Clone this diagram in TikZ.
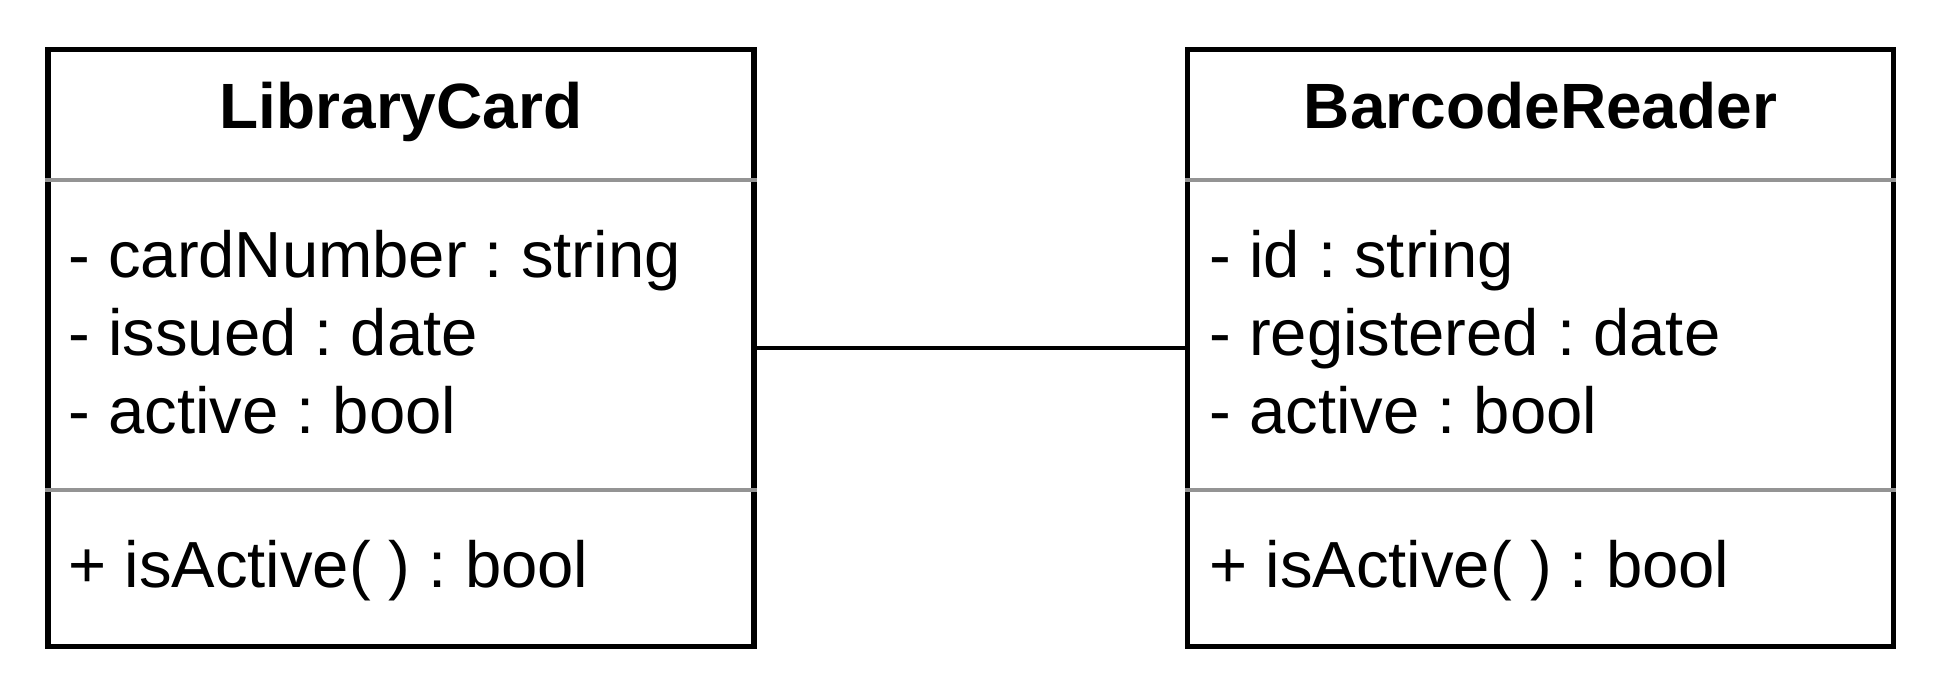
\documentclass[tikz,border=0pt]{standalone}
\usepackage{fontspec}
\setmainfont{Liberation Sans}
\frenchspacing
\begin{document}
\begin{tikzpicture}[x=0.5pt,y=-0.5pt,
  classbox/.style={draw=black,line width=2.6pt,minimum width=353pt,minimum height=298.5pt,inner sep=0pt},
  divider/.style={draw=black!42,line width=2.4pt},
  conn/.style={draw=black,line width=2pt},
  title/.style={font=\fontsize{32}{38}\selectfont\bfseries,anchor=base,inner sep=0pt},
  member/.style={font=\fontsize{32.6}{38}\selectfont,anchor=base west,inner sep=0pt}]
\useasboundingbox (0,0) rectangle (1934,686);
\node[classbox] (lc) at (401,347.8) {};
\node[classbox] (br) at (1540.5,347.8) {};
\draw[divider] (lc.west |- 0,180) -- (lc.east |- 0,180);
\draw[divider] (lc.west |- 0,490) -- (lc.east |- 0,490);
\draw[divider] (br.west |- 0,180) -- (br.east |- 0,180);
\draw[divider] (br.west |- 0,490) -- (br.east |- 0,490);
\node[title] (lct) at (401,128) {LibraryCard};
\node[title] (brt) at (1540.5,128) {BarcodeReader};
\node[member] (lc1) at (68,277.5) {- cardNumber : string};
\node[member] (lc2) at (68,355) {- issued : date};
\node[member] (lc3) at (68,433) {- active : bool};
\node[member] (lc4) at (68,587) {+ isActive( ) : bool};
\node[member] (br1) at (1209,277.5) {- id : string};
\node[member] (br2) at (1209,355) {- registered : date};
\node[member] (br3) at (1209,433) {- active : bool};
\node[member] (br4) at (1209,587) {+ isActive( ) : bool};
\draw[conn] (lc.east) -- (br.west);
\end{tikzpicture}
\end{document}
